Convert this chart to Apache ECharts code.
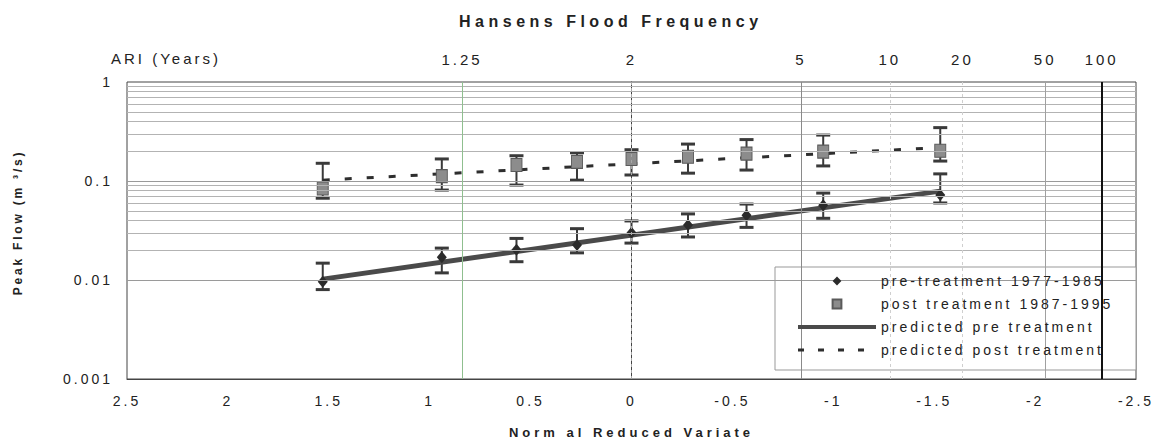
<!DOCTYPE html>
<html>
<head>
<meta charset="utf-8">
<script src="https://cdn.jsdelivr.net/npm/echarts@6/dist/echarts.min.js"></script>
<style>
html,body{margin:0;padding:0;background:#fff;}
#chart{width:1158px;height:447px;}
#chart text{letter-spacing:3px;}
#chart text[style*="16px"]{letter-spacing:4.5px;}
#chart text[style*="13px"]{letter-spacing:4px;}
#chart text[style*="12px"]{letter-spacing:2.8px;}
</style>
</head>
<body>
<div id="chart"></div>
<script>
// ---- data ----
const nrv = [1.53, 0.94, 0.57, 0.27, 0, -0.28, -0.57, -0.95, -1.53];
const preFlow  = [0.0096, 0.0170, 0.0202, 0.0226, 0.0300, 0.0360, 0.0450, 0.0570, 0.0720];
const preLow   = [0.0080, 0.0118, 0.0153, 0.0188, 0.0236, 0.0272, 0.0340, 0.0420, 0.0600];
const preHigh  = [0.0148, 0.0210, 0.0263, 0.0330, 0.0395, 0.0465, 0.0585, 0.0755, 0.1180];
const postFlow = [0.084, 0.112, 0.145, 0.156, 0.167, 0.176, 0.189, 0.198, 0.202];
const postLow  = [0.067, 0.081, 0.091, 0.102, 0.115, 0.120, 0.129, 0.142, 0.159];
const postHigh = [0.151, 0.167, 0.180, 0.193, 0.207, 0.236, 0.262, 0.291, 0.346];
const predPreX   = [1.53, -1.53];
const predPreY   = [0.0102, 0.079];
const predPostX  = [1.53, -1.53];
const predPostY  = [0.102, 0.218];
const xTickLabels = ['2.5','2','1.5','1','0.5','0','-0.5','-1','-1.5','-2','-2.5'];
const yTickLabels = ['0.001','0.01','0.1','1'];
const ariLabels = ['1.25','2','5','10','20','50','100'];
const ariNrv    = [0.84, 0, -0.84, -1.28, -1.64, -2.05, -2.33];
const seriesNames = ['pre-treatment 1977-1985','post treatment 1987-1995','predicted pre treatment','predicted post treatment'];

const FONT = 'Liberation Sans';
const chart = echarts.init(document.getElementById('chart'), null, {renderer:'svg'});

// horizontal log grid lines (decades 1..9)
const gridLines = [];
[0.001, 0.01, 0.1].forEach(function(d){
  for (let k = 1; k <= 9; k++) {
    if (d === 0.001 && k === 1) continue;
    gridLines.push({yAxis: +(d*k).toPrecision(3), lineStyle:{color: k===1 ? '#9a9a9a' : '#b3b3b3', width:1, type:'solid'}});
  }
});
const ariLineStyles = [
  {color:'#8fbf8f', width:1, type:'solid'},
  {color:'#a8a8a8', width:1, type:[3,3]},
  {color:'#8a8a8a', width:1, type:'solid'},
  {color:'#cfcfcf', width:1, type:[3,3]},
  {color:'#cfcfcf', width:1, type:[3,3]},
  {color:'#a0a0a0', width:1, type:'solid'},
  {color:'#111', width:2, type:'solid'}
];
ariNrv.forEach(function(v,i){ gridLines.push({xAxis: v, lineStyle: ariLineStyles[i]}); });

function errorBars(name, lows, highs, color){
  return {
    type:'custom', name:name, z:2, silent:true,
    data: nrv.map(function(x,i){ return [x, lows[i], highs[i]]; }),
    encode:{x:0, y:[1,2]},
    renderItem:function(params, api){
      const x = api.value(0);
      const lo = api.coord([x, api.value(1)]);
      const hi = api.coord([x, api.value(2)]);
      const hw = 7;
      return {type:'group', children:[
        {type:'line', shape:{x1:lo[0],y1:lo[1],x2:hi[0],y2:hi[1]}, style:{stroke:color,lineWidth:2}},
        {type:'line', shape:{x1:hi[0]-hw,y1:hi[1],x2:hi[0]+hw,y2:hi[1]}, style:{stroke:color,lineWidth:3}},
        {type:'line', shape:{x1:lo[0]-hw,y1:lo[1],x2:lo[0]+hw,y2:lo[1]}, style:{stroke:color,lineWidth:3}}
      ]};
    }
  };
}

const hiddenSym = {color:'rgba(0,0,0,0)', borderWidth:0, borderColor:'rgba(0,0,0,0)'};
const noLine = {color:'rgba(0,0,0,0)', width:0, opacity:0};

const option = {
  animation:false,
  backgroundColor:'#fff',
  textStyle:{fontFamily:FONT},
  title:{text:'Hansens Flood Frequency', left:459, top:13, padding:0,
     textStyle:{fontFamily:FONT, fontSize:16, fontWeight:'bold', color:'#222'}},
  grid:{left:127, right:22, top:82, bottom:68, show:true, borderColor:'#444', borderWidth:1, backgroundColor:'#fff'},
  xAxis:[
    {type:'value', min:-2.5, max:2.5, interval:0.5, inverse:true, position:'bottom',
     name:'Norm al Reduced Variate', nameLocation:'middle', nameGap:47,
     nameTextStyle:{fontFamily:FONT, fontSize:13, fontWeight:'bold', color:'#222'},
     axisLine:{show:true, lineStyle:{color:'#444'}}, axisTick:{show:false}, splitLine:{show:false},
     axisLabel:{margin:15, fontFamily:FONT, fontSize:14, color:'#222', showMinLabel:true, showMaxLabel:true, hideOverlap:false,
       formatter:function(v){ return xTickLabels[Math.round((2.5 - v)/0.5)]; }}},
    {type:'value', min:-2.5, max:2.5, inverse:true, position:'top',
     axisLine:{show:false}, axisTick:{show:false}, splitLine:{show:false},
     axisLabel:{margin:15, fontFamily:FONT, fontSize:15, color:'#222', customValues: ariNrv, hideOverlap:false,
       formatter:function(v){ let b=0, bd=1e9; ariNrv.forEach(function(a,i){ const d=Math.abs(a-v); if(d<bd){bd=d;b=i;} }); return ariLabels[b]; }}}
  ],
  yAxis:{type:'log', logBase:10, min:0.001, max:1,
     name:'Peak Flow (m ³/s)', nameLocation:'middle', nameGap:103, nameRotate:90,
     nameTextStyle:{fontFamily:FONT, fontSize:12, fontWeight:'bold', color:'#222', padding:[0,0,0,16]},
     axisLine:{show:true, lineStyle:{color:'#444'}}, axisTick:{show:false}, splitLine:{show:false}, minorSplitLine:{show:false},
     axisLabel:{margin:14, fontFamily:FONT, fontSize:14, color:'#222',
       formatter:function(v){ return yTickLabels[Math.round(Math.log10(v))+3]; }}},
  legend:{
    orient:'vertical', left:796, top:274, padding:0, itemWidth:78, itemHeight:11, itemGap:9, z:6,
    textStyle:{fontFamily:FONT, fontSize:14, color:'#222'},
    data:[
      {name:seriesNames[0]},
      {name:seriesNames[1]},
      {name:seriesNames[2], itemStyle:hiddenSym, lineStyle:{width:4, color:'#4a4a4a', type:'solid'}},
      {name:seriesNames[3], itemStyle:hiddenSym, lineStyle:{width:3, color:'#2e2e2e', type:[6,14]}}
    ],
    selectedMode:false
  },
  graphic:{elements:[
    {type:'rect', z:5, shape:{x:775, y:267, width:361, height:103}, style:{fill:'#fff', stroke:'#999', lineWidth:1}, silent:true},
    {type:'text', z:5, x:111, y:58, silent:true,
     style:{text:'ARI (Years)', fill:'#222', fontFamily:FONT, fontSize:15, textAlign:'left', textVerticalAlign:'middle'}}
  ]},
  series:[
    {type:'line', name:'gridlines', data:[], z:1, silent:true,
     markLine:{silent:true, symbol:['none','none'], label:{show:false}, animation:false, data:gridLines}},
    errorBars('preErr', preLow, preHigh, '#3a3a3a'),
    errorBars('postErr', postLow, postHigh, '#3a3a3a'),
    {type:'line', name:seriesNames[2], z:3, symbol:'none', data: predPreX.map(function(x,i){return [x, predPreY[i]];}),
     lineStyle:{color:'#4a4a4a', width:5}, itemStyle:{color:'#4a4a4a'}},
    {type:'line', name:seriesNames[3], z:3, symbol:'none', data: predPostX.map(function(x,i){return [x, predPostY[i]];}),
     lineStyle:{color:'#2e2e2e', width:3, type:[7,15]}, itemStyle:{color:'#2e2e2e'}},
    {type:'line', name:seriesNames[0], z:4, symbol:'diamond', symbolSize:[10,12], showSymbol:true, lineStyle:noLine,
     data: nrv.map(function(x,i){return [x, preFlow[i]];}), itemStyle:{color:'#2b2b2b'}},
    {type:'line', name:seriesNames[1], z:4, symbol:'rect', symbolSize:[11,13], showSymbol:true, lineStyle:noLine,
     data: nrv.map(function(x,i){return [x, postFlow[i]];}), itemStyle:{color:'#8c8c8c', borderColor:'#5a5a5a', borderWidth:1}}
  ]
};
chart.setOption(option);
</script>
</body>
</html>
